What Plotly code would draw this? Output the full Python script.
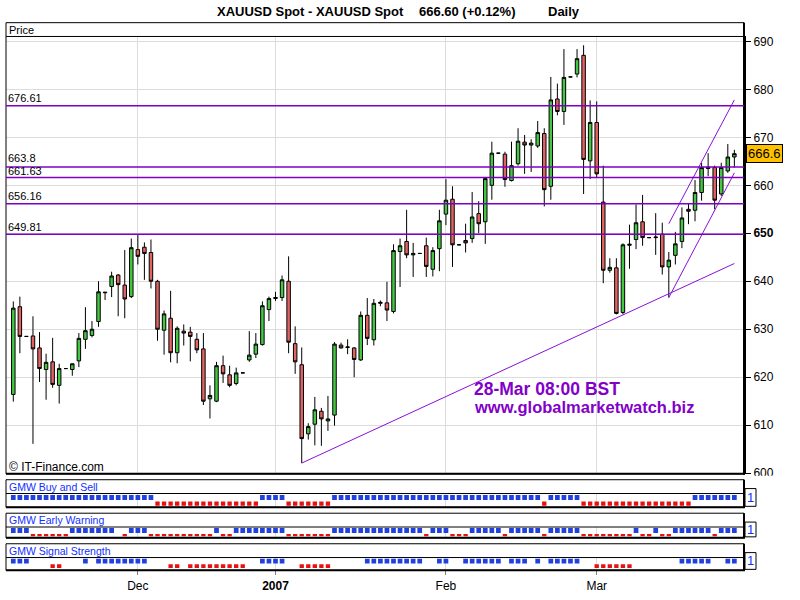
import plotly.graph_objects as go

W, H = 800, 600

# ---------------- data ----------------
bar_index = list(range(111))
opens = [616.4, 634.7, 628.5, 628.6, 626.1, 621.6, 623.2, 618.3, 621.8, 621.6,
         623.4, 627.9, 628.7, 631.6, 637.6, 638.9, 641.3, 639.2, 636.8, 646.6,
         647.1, 646.0, 640.0, 629.8, 632.3, 625.1, 629.6, 629.4, 627.9, 625.9,
         615.5, 615.0, 622.4, 620.5, 618.7, 620.9, 623.6, 624.8, 626.8, 634.1,
         636.4, 636.6, 640.0, 627.0, 622.6, 608.2, 610.2, 612.9, 610.9, 612.1,
         626.7, 626.2, 626.1, 623.6, 632.9, 627.8, 635.4, 635.5, 633.7, 646.2,
         648.3, 645.5, 645.8, 647.4, 642.5, 646.8, 654.0, 657.1, 647.6, 648.5,
         648.9, 654.1, 652.4, 660.0, 666.7, 666.5, 661.0, 664.5, 669.0, 668.4,
         668.2, 670.8, 659.8, 678.0, 675.4, 682.6, 683.2, 687.1, 665.1, 673.1,
         656.5, 642.3, 642.8, 633.5, 647.5, 648.7, 652.4, 649.1, 649.1, 649.8,
         643.0, 645.4, 648.3, 655.0, 654.8, 658.5, 663.8, 663.7, 658.2, 663.0,
         665.9]
highs = [635.8, 636.8, 628.5, 632.7, 629.4, 624.9, 628.2, 622.8, 621.8, 622.8,
         629.2, 634.6, 631.7, 640.0, 637.7, 642.0, 641.5, 646.5, 648.9, 649.8,
         648.1, 648.7, 640.3, 633.9, 638.0, 630.6, 631.0, 630.5, 629.2, 629.2,
         618.3, 623.2, 624.5, 622.4, 622.0, 620.9, 629.6, 629.2, 635.8, 636.8,
         637.8, 641.2, 645.2, 630.6, 626.2, 610.4, 615.9, 613.6, 616.1, 627.3,
         627.2, 627.9, 626.3, 633.7, 636.5, 636.3, 636.0, 639.9, 647.7, 648.9,
         654.9, 648.0, 645.8, 649.1, 647.1, 654.9, 661.3, 659.8, 647.6, 652.0,
         658.6, 656.7, 661.6, 669.1, 666.7, 667.0, 669.1, 671.9, 670.5, 669.6,
         673.4, 671.9, 682.6, 681.2, 688.4, 682.6, 688.4, 689.2, 677.7, 677.5,
         664.1, 644.8, 644.8, 647.9, 651.8, 656.0, 658.0, 649.1, 654.2, 652.2,
         646.1, 650.3, 655.4, 656.1, 661.1, 664.7, 666.7, 664.1, 664.7, 668.6,
         667.4]
lows = [614.9, 625.0, 628.5, 606.1, 619.0, 615.3, 617.8, 614.5, 621.8, 620.3,
        622.1, 625.9, 628.3, 630.5, 636.1, 636.7, 632.7, 632.3, 636.5, 643.5,
        640.3, 638.5, 627.6, 624.7, 623.1, 622.9, 626.6, 623.3, 625.0, 614.2,
        611.4, 614.8, 618.8, 617.9, 618.3, 620.9, 623.2, 624.0, 626.6, 631.7,
        635.9, 635.9, 625.0, 620.7, 602.1, 607.0, 605.8, 605.7, 608.8, 609.9,
        626.0, 624.8, 620.0, 623.4, 626.7, 626.6, 634.8, 631.7, 633.3, 638.8,
        644.8, 640.9, 645.8, 640.9, 641.0, 642.1, 651.7, 643.0, 647.6, 646.0,
        648.0, 650.0, 647.8, 657.0, 666.7, 659.7, 660.8, 664.1, 662.4, 662.8,
        667.8, 655.6, 657.0, 674.6, 672.6, 682.6, 682.5, 658.2, 661.3, 661.7,
        639.6, 641.8, 633.1, 633.1, 642.6, 646.7, 647.4, 649.1, 645.5, 641.4,
        636.6, 643.5, 646.9, 651.9, 652.5, 656.8, 661.9, 655.0, 657.8, 662.6,
        663.7]
closes = [634.4, 628.5, 628.5, 625.9, 621.8, 623.1, 618.5, 621.8, 621.8, 622.8,
          628.1, 629.7, 630.0, 637.8, 637.7, 641.1, 639.3, 636.3, 647.0, 645.2,
          645.8, 640.0, 630.0, 633.2, 625.1, 630.2, 629.2, 628.5, 625.7, 615.0,
          616.2, 622.4, 620.7, 618.3, 620.9, 620.9, 624.6, 626.9, 634.9, 636.4,
          636.6, 640.3, 627.3, 623.2, 607.2, 609.7, 613.2, 611.3, 611.3, 626.9,
          626.1, 626.3, 623.7, 632.9, 628.1, 635.4, 635.6, 634.0, 646.4, 647.4,
          645.5, 645.8, 645.8, 643.1, 646.4, 652.6, 656.9, 647.6, 647.6, 648.0,
          653.4, 652.0, 661.4, 666.7, 666.7, 661.2, 664.1, 669.2, 668.4, 668.8,
          671.0, 659.1, 677.8, 675.4, 682.5, 682.6, 686.4, 665.4, 673.1, 662.4,
          642.3, 642.9, 633.3, 647.6, 647.7, 652.2, 649.1, 649.1, 649.2, 643.0,
          644.4, 647.8, 653.2, 654.6, 658.5, 663.7, 663.5, 656.9, 663.7, 665.9,
          666.6]

# indicator panels: 1 = blue (upper) square, -1 = red (lower) square, 0 = none
buy_sell = [1] * 22 + [-1] * 16 + [1] * 4 + [-1] * 7 + [1] * 32 + [-1] + [1] * 5 + [-1] * 17 + [1] * 7
early_warning = ([1, 1, 1, -1, -1, -1, -1, -1, -1, 1, 1, 1, 1, 1, 1, 1, 0, -1, 1, 1,
                  1, -1, -1, -1, -1, -1, -1, -1, -1, -1, -1, 1, -1, -1, 1, 1, 1, 1, 1, 1,
                  1, 1, -1, -1, -1, -1, -1, -1, -1, 1, 1, 1, 1, 1, 1, 1, 1, 1, 1, 1,
                  1, 1, 1, -1, 1, 1, 1, -1, -1, -1, 1, 1, 1, 1, 1, -1, 1, 1, 1, 1,
                  1, -1, 1, 1, 1, 1, 1, -1, -1, -1, -1, -1, -1, -1, -1, 1, -1, -1, 1, -1,
                  -1, 1, 1, 1, 1, 1, 1, -1, 1, 1, 1])
signal_strength = ([1, 1, 1, 0, 0, 0, -1, -1, 0, 0, 0, 1, 0, 1, 1, 1, 1, 1, 1, 1,
                    1, 0, 0, 0, -1, -1, 0, -1, -1, -1, -1, -1, -1, -1, -1, -1, 0, 0, 1, 1,
                    1, 1, 0, 0, -1, -1, -1, -1, -1, 0, 0, 0, 0, 0, 1, 1, 1, 1, 1, 1,
                    1, 1, 1, 0, 0, 1, 1, 0, 0, 1, 1, 1, 1, 1, 1, 0, 1, 1, 1, 0,
                    1, 0, 1, 1, 1, 1, 1, 0, 0, -1, -1, -1, -1, -1, -1, 0, 0, 0, 0, 0,
                    0, 0, 1, 1, 1, 1, 1, 0, 0, 1, 1])

levels = [676.61, 663.8, 661.63, 656.16, 649.81]
level_labels = ["676.61", "663.8", "661.63", "656.16", "649.81"]

trend1_x = [44, 110]
trend1_y = [602.1, 643.7]
trend2_x = [100, 110]
trend2_y = [636.6, 662.6]
trend3_x = [100, 110]
trend3_y = [652.0, 677.8]

month_ticks = [19, 40, 66, 89]
month_labels = ["Dec", "<b>2007</b>", "Feb", "Mar"]
price_ticks = [600, 610, 620, 630, 640, 650, 660, 670, 680, 690]
price_labels = ["600", "610", "620", "630", "640", "<b>650</b>", "660", "670", "680", "690"]
last_price = 666.6

# ---------------- styling ----------------
FONT = "Liberation Sans, Arial, sans-serif"
GREEN = "#44c844"
RED_C = "#e06464"
PURPLE = "#7d00c4"
BLUE = "#2040e0"
RED_S = "#e81010"
GRID = "#dcdcdc"


def px(x):
    return x / W


def py(y):
    return 1 - y / H


fig = go.Figure()

fig.add_trace(go.Candlestick(
    x=bar_index, open=opens, high=highs, low=lows, close=closes,
    increasing=dict(fillcolor=GREEN, line=dict(color="black", width=1)),
    decreasing=dict(fillcolor=RED_C, line=dict(color="black", width=1)),
    whiskerwidth=0, xaxis="x", yaxis="y", showlegend=False, hoverinfo="skip"))

for tx, ty in [(trend1_x, trend1_y), (trend2_x, trend2_y), (trend3_x, trend3_y)]:
    fig.add_trace(go.Scatter(x=tx, y=ty, mode="lines", line=dict(color="#8a10d8", width=1),
                             xaxis="x", yaxis="y", showlegend=False, hoverinfo="skip"))

# panels: (signal, axis, top, sep, bottom, blue_base, blue_h, red_base, red_h, title)
panels = [
    (buy_sell, "y2", 485, 499, 513, 7.5, 5.0, 1.5, 4.4, "GMW Buy and Sell"),
    (early_warning, "y3", 519, 533, 544, 5.0, 5.0, 1.6, 2.4, "GMW Early Warning"),
    (signal_strength, "y4", 550, 564, 577, 7.0, 4.8, 2.3, 4.0, "GMW Signal Strength"),
]

for sig, ax, top, sep, bot, bb, bh, rb, rh, title in panels:
    pos = [i for i, v in zip(bar_index, sig) if v > 0]
    neg = [i for i, v in zip(bar_index, sig) if v < 0]
    fig.add_trace(go.Bar(x=pos, y=[bh] * len(pos), base=bb, width=0.72,
                         marker=dict(color=BLUE, line=dict(width=0)),
                         xaxis="x", yaxis=ax, showlegend=False, hoverinfo="skip"))
    fig.add_trace(go.Bar(x=neg, y=[rh] * len(neg), base=rb, width=0.66,
                         marker=dict(color=RED_S, line=dict(width=0)),
                         xaxis="x", yaxis=ax, showlegend=False, hoverinfo="skip"))

shapes = []
annotations = []


def ann(text, x, y, size, color="black", xanchor="left", yanchor="middle", **kw):
    d = dict(text=text, x=px(x), y=py(y), xref="paper", yref="paper", showarrow=False,
             xanchor=xanchor, yanchor=yanchor, font=dict(family=FONT, size=size, color=color))
    d.update(kw)
    annotations.append(d)


def hline(x0, x1, y, color="black", width=1):
    shapes.append(dict(type="line", xref="paper", yref="paper", x0=px(x0), x1=px(x1),
                       y0=py(y), y1=py(y), line=dict(color=color, width=width)))


def vline(x, y0, y1, color="black", width=1):
    shapes.append(dict(type="line", xref="paper", yref="paper", x0=px(x), x1=px(x),
                       y0=py(y0), y1=py(y1), line=dict(color=color, width=width)))


# hide the lower half of the bottom price label, as in the reference
shapes.append(dict(type="rect", xref="paper", yref="paper", x0=px(745.5), x1=px(800),
                   y0=py(486), y1=py(481), fillcolor="white", line=dict(width=0)))

# main frame
shapes.append(dict(type="rect", xref="paper", yref="paper", x0=px(6), x1=px(744),
                   y0=py(479), y1=py(21), line=dict(color="black", width=1)))
hline(6, 744, 35)
vline(744, 21, 480, width=2)
hline(6, 745, 479, width=2)
# darker 2007 separator
shapes.append(dict(type="line", xref="x", yref="paper", x0=40, x1=40, y0=py(479), y1=py(35),
                   line=dict(color="#a8a8a8", width=1), layer="below"))

# level lines
level_shift = [7.5, 9.0, 6.5, 7.5, 7.5]
for lv, lab, ys in zip(levels, level_labels, level_shift):
    shapes.append(dict(type="line", xref="paper", yref="y", x0=px(6), x1=px(744), y0=lv, y1=lv,
                       line=dict(color=PURPLE, width=1.5)))
    annotations.append(dict(text=lab, x=px(7), y=lv, xref="paper", yref="y", showarrow=False,
                            xanchor="left", yanchor="middle", yshift=ys, borderpad=0,
                            font=dict(family=FONT, size=11, color="black")))

# panel frames
for sig, ax, top, sep, bot, bb, bh, rb, rh, title in panels:
    shapes.append(dict(type="rect", xref="paper", yref="paper", x0=px(6), x1=px(744),
                       y0=py(bot), y1=py(top), line=dict(color="black", width=1)))
    hline(6, 744, sep)
    hline(6, 745, bot, width=2)
    vline(744, top, bot, width=2)
    shapes.append(dict(type="line", xref="x", yref="paper", x0=40, x1=40, y0=py(bot), y1=py(sep),
                       line=dict(color="#a8a8a8", width=1), layer="below"))
    ann(title, 7, top + 7, 10.5, color="#1030ff")
    shapes.append(dict(type="rect", xref="paper", yref="paper", x0=px(745), x1=px(756),
                       y0=py(bot - 1), y1=py(sep - 5), line=dict(color="black", width=1)))
    ann("1", 750.5, (sep - 5 + bot - 1) / 2, 13, color="#1030ff", xanchor="center")

# texts
ann("<b>XAUUSD Spot - XAUUSD Spot</b>", 215, 9.5, 13)
ann("<b>666.60 (+0.12%)</b>", 416.7, 9.5, 13)
ann("<b>Daily</b>", 545.7, 9.5, 13)
ann("Price", 7, 28, 11)
ann("© IT-Finance.com", 7, 472.5, 12)
ann("<b>28-Mar 08:00 BST</b>", 472, 392.5, 17.5, color="#8200c8")
ann("<b>www.globalmarketwatch.biz</b>", 472, 411, 16.5, color="#8200c8")

annotations.append(dict(text="666.6", x=px(746), y=last_price, xref="paper", yref="y",
                        showarrow=False, xanchor="left", yanchor="middle",
                        bgcolor="#ffc000", bordercolor="black", borderwidth=1, borderpad=1,
                        font=dict(family=FONT, size=13, color="black")))

fig.update_layout(
    width=W, height=H, autosize=False,
    margin=dict(l=0, r=0, t=0, b=0),
    paper_bgcolor="white", plot_bgcolor="white",
    barmode="overlay", boxgap=0.24, hovermode=False, showlegend=False,
    xaxis=dict(domain=[px(6), px(744)], range=[-1.114, 111.47], anchor="y4",
               tickvals=month_ticks, ticktext=month_labels, ticks="outside", ticklen=4,
               tickcolor="#808080", showgrid=True, gridcolor=GRID, gridwidth=1,
               zeroline=False, showline=False, rangeslider=dict(visible=False),
               tickfont=dict(family=FONT, size=12, color="black"), fixedrange=True),
    yaxis=dict(domain=[py(479), py(35)], range=[599.86, 691.03], side="right", anchor="x",
               tickvals=price_ticks, ticktext=price_labels, ticks="outside", ticklen=5,
               tickcolor="black", showgrid=True, gridcolor=GRID, gridwidth=1,
               showline=True, linecolor="black", linewidth=2, zeroline=False,
               tickfont=dict(family=FONT, size=12, color="black"), fixedrange=True),
    yaxis2=dict(domain=[py(513), py(499)], range=[0, 14], visible=False, anchor="x", fixedrange=True),
    yaxis3=dict(domain=[py(544), py(533)], range=[0, 11], visible=False, anchor="x", fixedrange=True),
    yaxis4=dict(domain=[py(577), py(564)], range=[0, 13], visible=False, anchor="x", fixedrange=True),
    shapes=shapes,
    annotations=annotations,
)

fig.write_html("out.html", config={"displayModeBar": False},
               post_script="document.body.style.margin='0';document.body.style.padding='0';"
                           "document.documentElement.style.overflow='hidden';")
